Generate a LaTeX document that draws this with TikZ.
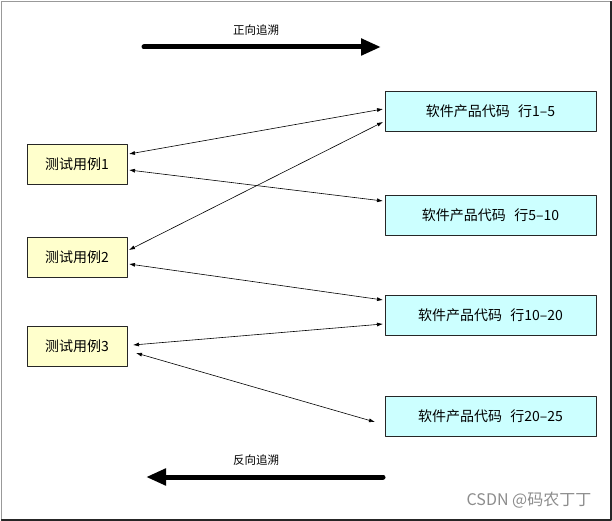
\documentclass[tikz,border=0pt]{standalone}
\usepackage{fontspec}
\setmainfont{Noto Sans CJK SC}
\usetikzlibrary{arrows.meta}
\definecolor{caseyellow}{RGB}{255,255,204}
\definecolor{codecyan}{RGB}{204,255,255}
\newcommand{\gap}{\hspace{0.6em}}
\begin{document}
\begin{tikzpicture}[x=1pt,y=-1pt,line join = round, line cap = round,
	casebox/.style={draw=black!85,fill=caseyellow,minimum width=100pt,minimum height=40pt,inner sep=0pt,outer sep=2pt,font=\fontsize{14}{16}\selectfont},
	codebox/.style={draw=black!85,fill=codecyan,minimum width=211pt,minimum height=40pt,inner sep=0pt,outer sep=2pt,font=\fontsize{14}{16}\selectfont},
	trace/.style={line width=0.6pt,{Latex[length=6pt,width=4pt]}-{Latex[length=6pt,width=4pt]}},
	bigarrow/.style={line width=5pt,-{Triangle[length=20pt,width=16pt]}},
	tag/.style={font=\fontsize{11.5}{14}\selectfont}]
	\useasboundingbox (0,0) rectangle (612,521);
	% frame
	\draw[black!40,line width=1.2pt] (1.5,520) -- (1.5,1.5) -- (611,1.5);
	\draw[black!85,line width=1.2pt] (1.5,520) -- (611,520) -- (611,1.5);
	% test cases
	\node[casebox] (t1) at (77,164) {测试用例1};
	\node[casebox] (t2) at (77,257) {测试用例2};
	\node[casebox] (t3) at (77,346) {测试用例3};
	% code blocks
	\node[codebox] (c1) at (490.5,111) {软件产品代码\gap 行1–5};
	\node[codebox] (c2) at (490.5,215) {软件产品代码\gap 行5–10};
	\node[codebox] (c3) at (490.5,315) {软件产品代码\gap 行10–20};
	\node[codebox] (c4) at (490.5,416) {软件产品代码\gap 行20–25};
	% links
	\draw[trace] ([yshift=10pt]t1.east) -- ([yshift=2pt]c1.west);
	\draw[trace] ([yshift=-6pt]t1.east) -- ([yshift=14pt]c2.west);
	\draw[trace] ([yshift=7pt]t2.east) -- ([yshift=-11pt]c1.west);
	\draw[trace] ([yshift=-7pt]t2.east) -- ([yshift=15pt]c3.west);
	\draw[trace] ([xshift=4pt,yshift=1pt]t3.east) -- ([yshift=-9pt]c3.west);
	\draw[trace] ([xshift=7pt,yshift=-7pt]t3.east) -- ([xshift=-8pt,yshift=-6pt]c4.west);
	% direction
	\coordinate (fs) at (144,47);
	\coordinate (fe) at (381,47);
	\coordinate (bs) at (383,477);
	\coordinate (be) at (146,477);
	\draw[bigarrow] (fs) -- (fe);
	\draw[bigarrow] (bs) -- (be);
	\node[tag] (fwd) at (256,30) {正向追溯};
	\node[tag] (bwd) at (256,460) {反向追溯};
	\node[text=black!45,font=\fontsize{16}{18}\selectfont] (mark) at (529,500) {CSDN @码农丁丁};
\end{tikzpicture}
\end{document}
